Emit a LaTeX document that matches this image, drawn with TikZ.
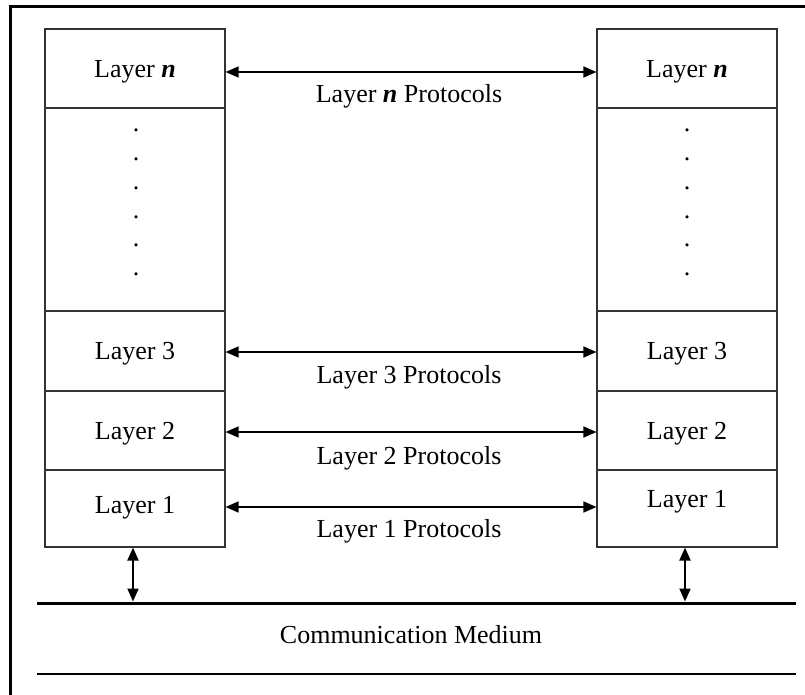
\documentclass[tikz,border=0pt]{standalone}
\usepackage{fontspec}
\setmainfont{Liberation Serif}
\usetikzlibrary{arrows.meta}
\begin{document}
\begin{tikzpicture}[x=1pt,y=-1pt,
  lay/.style={draw=black!80, line width=1.1pt, minimum width=180pt, inner sep=0pt, text depth=0pt, font=\fontsize{26}{30}\selectfont},
  proto/.style={font=\fontsize{26}{30}\selectfont, inner sep=0pt, text depth=0pt},
  biarrow/.style={line width=1.5pt, {Triangle[length=13pt,width=11pt]}-{Triangle[length=13pt,width=11pt]}},
  vbiarrow/.style={biarrow, line width=2pt},
  dotmark/.style={font=\fontsize{26}{30}\selectfont, inner sep=0pt, anchor=base}
]
\useasboundingbox (0,0) rectangle (805,695);
% outer frame
\draw[line width=2.6pt] (10.5,700) -- (10.5,6.5) -- (810,6.5);
% left stack
\node[lay, minimum height=79pt] (ln) at (135,68.5) {Layer \textbf{\textit{n}}};
\node[lay, minimum height=203pt] (ld) at (135,209.5) {};
\node[lay, minimum height=80pt] (l3) at (135,351) {Layer 3};
\node[lay, minimum height=79pt] (l2) at (135,430.5) {Layer 2};
\node[lay, minimum height=77pt] (l1) at (135,508.5) {};
\node[proto] (l1t) at (135,505) {Layer 1};
% right stack
\node[lay, minimum height=79pt] (rn) at (687,68.5) {Layer \textbf{\textit{n}}};
\node[lay, minimum height=203pt] (rd) at (687,209.5) {};
\node[lay, minimum height=80pt] (r3) at (687,351) {Layer 3};
\node[lay, minimum height=79pt] (r2) at (687,430.5) {Layer 2};
\node[lay, minimum height=77pt] (r1) at (687,508.5) {};
\node[proto] (r1t) at (687,499) {Layer 1};
% dots
\foreach \y [count=\i] in {130,159,188,217,245,274} {
  \node[dotmark] (ldot\i) at (136,\y+1.6) {.};
  \node[dotmark] (rdot\i) at (687,\y+1.6) {.};
}
% protocol arrows
\draw[biarrow] (ln.east |- 0,72) -- (rn.west |- 0,72);
\draw[biarrow] (l3.east |- 0,352) -- (r3.west |- 0,352);
\draw[biarrow] (l2.east |- 0,432) -- (r2.west |- 0,432);
\draw[biarrow] (l1.east |- 0,507) -- (r1.west |- 0,507);
\node[proto] (pn) at (409,93) {Layer \textbf{\textit{n}} Protocols};
\node[proto] (p3) at (409,374) {Layer 3 Protocols};
\node[proto] (p2) at (409,455) {Layer 2 Protocols};
\node[proto] (p1) at (409,528) {Layer 1 Protocols};
% medium
\coordinate (mTL) at (37,603);
\coordinate (mTR) at (796,603);
\coordinate (mBL) at (37,674);
\coordinate (mBR) at (796,674);
\draw[line width=3pt] (mTL) -- (mTR);
\draw[line width=2.2pt] (mBL) -- (mBR);
\node[proto] (med) at (411,634) {Communication Medium};
% vertical arrows
\draw[vbiarrow] (l1.south -| 133,0) -- (133,601.5);
\draw[vbiarrow] (r1.south -| 685,0) -- (685,601.5);
\end{tikzpicture}
\end{document}
